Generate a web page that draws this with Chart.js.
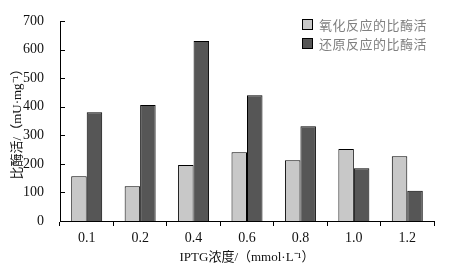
<!DOCTYPE html>
<html>
<head>
<meta charset="utf-8">
<script src="https://cdn.jsdelivr.net/npm/chart.js@4/dist/chart.umd.min.js"></script>
<style>
    body { margin: 0; background: #fff; }
    #wrap { position: relative; width: 452px; height: 269px; }
    #legend { position: absolute; left: 302px; top: 15px; font-family: "Noto Sans CJK SC", sans-serif; font-size: 13px; color: #808080; letter-spacing: 0.5px; }
    .row { display: flex; align-items: center; height: 19px; }
    .box { width: 9px; height: 9px; border: 1px solid #000; margin-right: 6px; }
</style>
</head>
<body>
<div id="wrap">
    <canvas id="chart" width="452" height="269"></canvas>
    <div id="legend"></div>
</div>
<script>
const categories = ['0.1', '0.2', '0.4', '0.6', '0.8', '1.0', '1.2'];
const seriesNames = ['氧化反应的比酶活', '还原反应的比酶活'];
const oxidation = [157, 122, 196, 241, 213, 252, 227];
const reduction = [381, 406, 630, 440, 332, 185, 106];
const colors = ['#c8c8c8', '#565656'];

const serif = '"Liberation Serif", "Noto Sans CJK SC", serif';

// inward y ticks drawn against the library's scale
const yTickPlugin = {
    id: 'yTicks',
    afterDraw(chart) {
        const ctx = chart.ctx;
        const y = chart.scales.y;
        const x0 = chart.chartArea.left;
        ctx.save();
        ctx.strokeStyle = '#000';
        ctx.lineWidth = 1;
        y.ticks.forEach(t => {
            const py = Math.round(y.getPixelForValue(t.value)) + 0.5;
            ctx.beginPath();
            ctx.moveTo(x0, py);
            ctx.lineTo(x0 + 5, py);
            ctx.stroke();
        });
        ctx.restore();
    }
};

new Chart(document.getElementById('chart'), {
    type: 'bar',
    data: {
        labels: categories,
        datasets: [
            { label: seriesNames[0], data: oxidation, backgroundColor: colors[0], borderColor: '#000', borderWidth: 1 },
            { label: seriesNames[1], data: reduction, backgroundColor: colors[1], borderColor: '#000', borderWidth: 1 }
        ]
    },
    options: {
        responsive: false,
        animation: false,
        categoryPercentage: 0.58,
        barPercentage: 1,
        layout: { padding: { top: 21, right: 18, left: 0, bottom: 0 } },
        plugins: { legend: { display: false }, tooltip: { enabled: false } },
        scales: {
            x: {
                afterFit: s => { s.height = 48; },
                grid: { display: true, drawOnChartArea: false, offset: true, tickLength: 5, color: '#000' },
                border: { color: '#000', width: 1 },
                ticks: { color: '#111', padding: 4, font: { family: serif, size: 14 } },
                title: { display: true, text: 'IPTG浓度/（mmol·L⁻¹）', color: '#111', padding: { top: 1 }, font: { family: serif, size: 13 } }
            },
            y: {
                min: 0,
                max: 700,
                afterFit: s => { s.width = 60; },
                grid: { display: false },
                border: { color: '#000', width: 1 },
                ticks: { stepSize: 100, color: '#111', padding: 8, font: { family: serif, size: 14 } },
                title: { display: true, text: '比酶活/（mU·mg⁻¹）', color: '#111', padding: { top: 10, bottom: 0 }, font: { family: serif, size: 13 } }
            }
        }
    },
    plugins: [yTickPlugin]
});

document.getElementById('legend').innerHTML = seriesNames.map((name, i) =>
    `<div class="row"><div class="box" style="background:${colors[i]}"></div><span>${name}</span></div>`
).join('');
</script>
</body>
</html>
